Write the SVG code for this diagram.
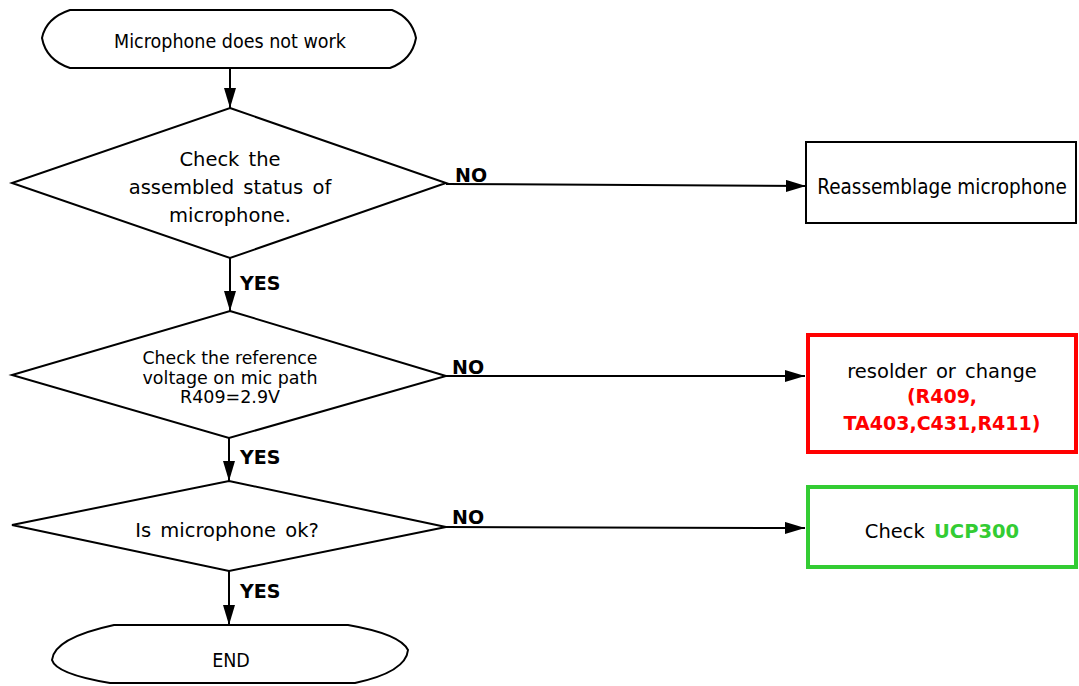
<svg xmlns="http://www.w3.org/2000/svg" width="1079" height="686" viewBox="0 0 1079 686">
<style>
.s{fill:#fff;stroke:#000;stroke-width:2}
.t{font-family:"DejaVu Sans Condensed","DejaVu Sans",sans-serif;font-size:19.5px;fill:#000;text-anchor:middle}
.w{font-family:"DejaVu Sans",sans-serif;font-size:19.5px;fill:#000;text-anchor:middle;word-spacing:3px}
.l{font-family:"DejaVu Sans",sans-serif;font-size:19px;font-weight:bold;fill:#000}
.c{stroke:#000;stroke-width:2;fill:none;marker-end:url(#ah)}
</style>
<defs>
<marker id="ah" viewBox="0 0 20 12" refX="20" refY="6" markerWidth="20" markerHeight="12" markerUnits="userSpaceOnUse" orient="auto">
<path d="M0,0 L20,6 L0,12 Z" fill="#000"/>
</marker>
</defs>
<g id="connectors">
<line class="c" x1="230" y1="68" x2="230" y2="108"/>
<line class="c" x1="230" y1="258" x2="230" y2="311"/>
<line class="c" x1="229" y1="438" x2="229" y2="481"/>
<line class="c" x1="229" y1="571" x2="229" y2="625"/>
<line class="c" x1="446" y1="184" x2="806" y2="186"/>
<line class="c" x1="446" y1="376" x2="805" y2="376"/>
<line class="c" x1="446" y1="527" x2="805" y2="528"/>
<text class="l" x="240" y="290">YES</text>
<text class="l" x="240" y="464">YES</text>
<text class="l" x="240" y="598">YES</text>
<text class="l" x="455" y="182">NO</text>
<text class="l" x="452" y="374">NO</text>
<text class="l" x="452" y="524">NO</text>
</g>
<g id="start">
<path class="s" d="M70,10 L392,10 Q412,18 416,38 Q412,60 390,68 L70,68 Q46,60 42,38 Q46,18 70,10 Z"/>
<text class="t" x="230" y="48">Microphone does not work</text>
</g>
<g id="d1">
<polygon class="s" points="230,108 446,183 230,258 12,183"/>
<text class="w" x="230" y="166">Check the</text>
<text class="w" x="230" y="194">assembled status of</text>
<text class="w" x="230" y="222">microphone.</text>
</g>
<g id="d2">
<polygon class="s" points="230,311 446,376 229,438 12,375"/>
<text class="t" x="230" y="364" style="font-size:18px" textLength="175" lengthAdjust="spacingAndGlyphs">Check the reference</text>
<text class="t" x="230" y="384" style="font-size:18px" textLength="175" lengthAdjust="spacingAndGlyphs">voltage on mic path</text>
<text class="t" x="230" y="403" style="font-size:18px" textLength="100" lengthAdjust="spacingAndGlyphs">R409=2.9V</text>
</g>
<g id="d3">
<polygon class="s" points="229,481 446,527 229,571 12,525"/>
<text class="w" x="227" y="537">Is microphone ok?</text>
</g>
<g id="end">
<path class="s" d="M114,625 L348,625 Q400,634 408,650 Q406,672 355,683 L110,683 Q56,674 52,660 Q54,638 114,625 Z"/>
<text class="t" x="231" y="667">END</text>
</g>
<g id="box1">
<rect class="s" x="806" y="142" width="270" height="81"/>
<text class="t" x="942" y="194" style="font-size:20.5px">Reassemblage microphone</text>
</g>
<g id="box2">
<rect x="808" y="335" width="268" height="117" fill="#fff" stroke="#ff0000" stroke-width="4"/>
<text class="w" x="942" y="378">resolder or change</text>
<text class="w" x="942" y="403" style="fill:#ff0000;font-weight:bold;font-size:19px">(R409,</text>
<text class="w" x="942" y="430" style="fill:#ff0000;font-weight:bold;font-size:19px">TA403,C431,R411)</text>
</g>
<g id="box3">
<rect x="808" y="487" width="268" height="80" fill="#fff" stroke="#33cc33" stroke-width="4"/>
<text class="w" x="942" y="538">Check <tspan style="fill:#33cc33;font-weight:bold">UCP300</tspan></text>
</g>
</svg>
